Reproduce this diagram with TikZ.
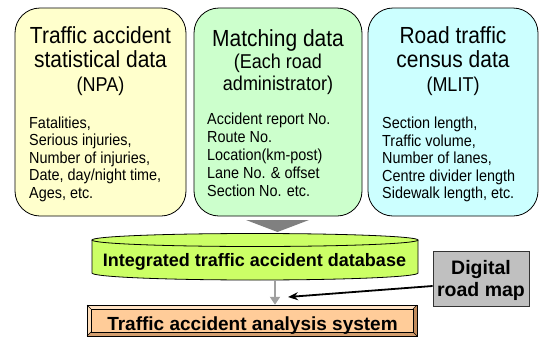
\documentclass[tikz,border=0pt]{standalone}
\usepackage{fontspec}
\setmainfont{Liberation Sans}[FakeStretch=0.9]
\newfontfamily\boldsans{Liberation Sans}
\usetikzlibrary{arrows.meta}
\definecolor{pyellow}{HTML}{FFFFCC}
\definecolor{pgreen}{HTML}{CCFFCC}
\definecolor{pcyan}{HTML}{CCFFFF}
\definecolor{dbfill}{HTML}{CCFF66}
\definecolor{anafill}{HTML}{FFCC99}
\definecolor{bevlight}{HTML}{FFE2C4}
\definecolor{bevdark}{HTML}{C08A5C}
\definecolor{mapfill}{HTML}{C0C0C0}
\definecolor{tri}{HTML}{808080}
\definecolor{garrow}{HTML}{A0A0A0}
\begin{document}
\begin{tikzpicture}[x=1pt,y=-1pt,
  panel/.style={draw=black, line width=0.8pt, rounded corners=25pt, inner sep=0pt, minimum height=208pt},
  ttl/.style={font=\fontsize{23.3}{24}\selectfont, align=center, inner sep=0pt, anchor=base},
  sub/.style={font=\fontsize{20}{21.5}\selectfont, align=center, inner sep=0pt, anchor=base},
  body/.style={font=\fontsize{16}{17.5}\selectfont, align=left, inner sep=0pt, anchor=base west},
  bold/.style={font=\boldsans\bfseries\fontsize{19}{22}\selectfont, align=center, inner sep=0pt},
  conn/.style={line width=1.8pt, -{Stealth[length=10pt,width=8pt]}}
]
\useasboundingbox (0,0) rectangle (539,338);
% three source panels
\node[panel, fill=pyellow, minimum width=171pt] (npa) at (100.5,112) {};
\node[panel, fill=pgreen,  minimum width=168pt] (match) at (278,112) {};
\node[panel, fill=pcyan,   minimum width=170pt] (mlit) at (453,112) {};
% yellow texts (multi-line nodes: base = last line)
\node[ttl] (npaT) at (100.5,67) {Traffic accident\\statistical data};
\node[sub] (npaS) at (100.5,91) {(NPA)};
\node[body] (npaB) at (29,198) {Fatalities,\\Serious injuries,\\Number of injuries,\\Date, day/night time,\\Ages, etc.};
% green texts
\node[ttl] (matchT) at (278,46) {Matching data};
\node[sub] (matchS) at (278,90) {(Each road\\administrator)};
\node[body, font=\fontsize{16}{18}\selectfont] (matchB) at (207,196) {Accident report No.\\Route No.\\Location(km-post)\\Lane No. \& offset\\Section No. etc.};
% cyan texts
\node[ttl] (mlitT) at (453,67) {Road traffic\\census data};
\node[sub] (mlitS) at (453,91) {(MLIT)};
\node[body] (mlitB) at (382,198.5) {Section length,\\Traffic volume,\\Number of lanes,\\Centre divider length\\Sidewalk length, etc.};
% merge triangle
\fill[tri] (246,220) -- (309,220) -- (277.5,232) -- cycle;
% database cylinder
\filldraw[fill=dbfill, draw=black, line width=0.8pt]
  (92,240) -- (92,273) .. controls (92,276.9) and (165,280) .. (255,280)
  .. controls (345,280) and (418,276.9) .. (418,273) -- (418,240);
\filldraw[fill=dbfill, draw=black, line width=0.8pt] (255,240) ellipse [x radius=163, y radius=6.5];
\node[bold, font=\boldsans\bfseries\fontsize{18}{22}\selectfont, anchor=base] (dbT) at (254.5,266) {Integrated traffic accident database};
\node[inner sep=0pt, minimum width=326pt, minimum height=47pt] (db) at (255,256.5) {};
% analysis system (bevelled box)
\fill[anafill] (87,305) rectangle (417,336);
\fill[bevlight] (87,305) -- (417,305) -- (413,309) -- (91,309) -- cycle;
\fill[bevlight!80!anafill] (87,305) -- (91,309) -- (91,332) -- (87,336) -- cycle;
\fill[bevdark] (417,305) -- (417,336) -- (413,332) -- (413,309) -- cycle;
\fill[bevdark!70!anafill] (87,336) -- (417,336) -- (413,332) -- (91,332) -- cycle;
\draw[line width=0.6pt] (87,305) rectangle (417,336);
\draw[line width=0.4pt] (91,309) rectangle (413,332);
\draw[line width=0.4pt] (87,305) -- (91,309) (417,305) -- (413,309) (87,336) -- (91,332) (417,336) -- (413,332);
\node[inner sep=0pt, minimum width=330pt, minimum height=31pt] (ana) at (252,320.5) {};
\node[bold, anchor=base] (anaT) at (252.5,330) {Traffic accident analysis system};
% digital road map
\node[draw=black!80, fill=mapfill, line width=0.8pt, minimum width=96pt, minimum height=55pt, inner sep=0pt] (map) at (481,278.5) {};
\node[bold, font=\boldsans\bfseries\fontsize{19.5}{22}\selectfont, anchor=base] (mapT) at (481,296) {Digital\\road map};
% connectors
\coordinate (dbout) at (275,280);
\draw[line width=2pt, garrow, -{Triangle[length=8pt,width=10pt]}] (dbout) -- (dbout |- ana.north);
\coordinate (mapin) at (288,297);
\draw[conn] ([yshift=-7.5pt]map.west) -- (mapin);
\end{tikzpicture}
\end{document}
